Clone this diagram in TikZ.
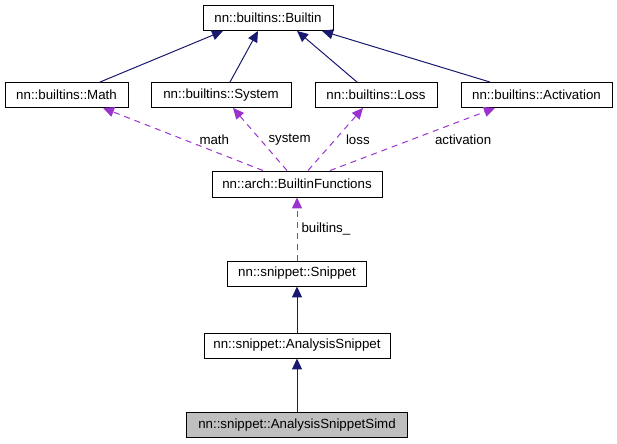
\documentclass[tikz,border=0pt]{standalone}
\usepackage{fontspec}
\setmainfont{Liberation Sans}
\usepackage{tikz}
\usetikzlibrary{arrows.meta,positioning}
\definecolor{doxblue}{RGB}{25,25,112}
\definecolor{doxpurple}{RGB}{154,50,205}
\definecolor{doxgray}{RGB}{191,191,191}

\begin{document}
\begin{tikzpicture}[x=1bp, y=-1bp,
    box/.style={draw=black, line width=0.9bp, rectangle, inner sep=0pt, minimum height=25bp,
        font=\fontsize{13.3bp}{16bp}\selectfont},
    base/.style={-{Triangle[length=11bp,width=10bp]}, doxblue, line width=1bp},
    uses/.style={-{Triangle[length=11bp,width=10bp]}, doxpurple, line width=1bp, dash pattern=on 6bp off 5bp},
    lbl/.style={inner sep=0pt, text=black, font=\fontsize{13.3bp}{16bp}\selectfont}]
    \useasboundingbox (0,0) rectangle (617,444);

    % base classes
    \node[box, minimum width=130bp] (builtin) at (268,18) {nn::builtins::Builtin};
    \node[box, minimum width=123bp] (math) at (66.5,95) {nn::builtins::Math};
    \node[box, minimum width=140bp] (system) at (221,95) {nn::builtins::System};
    \node[box, minimum width=122bp] (loss) at (376,95) {nn::builtins::Loss};
    \node[box, minimum width=151bp] (activation) at (536.5,95) {nn::builtins::Activation};

    % the chain below
    \node[box, minimum width=170bp, minimum height=26bp] (funcs) at (297,184) {nn::arch::BuiltinFunctions};
    \node[box, minimum width=139bp] (snippet) at (297,273.5) {nn::snippet::Snippet};
    \node[box, minimum width=186bp] (asnip) at (297,345.5) {nn::snippet::AnalysisSnippet};
    \node[box, minimum width=221bp, fill=doxgray] (simd) at (297,425) {nn::snippet::AnalysisSnippetSimd};

    \draw[base] ([xshift=33.5bp]math.north) -- ([xshift=-45bp]builtin.south);
    \draw[base] ([xshift=9bp]system.north) -- ([xshift=-10bp]builtin.south);
    \draw[base] ([xshift=-19bp]loss.north) -- ([xshift=29bp]builtin.south);
    \draw[base] ([xshift=-46.5bp]activation.north) -- ([xshift=54bp]builtin.south);

    \draw[uses] ([xshift=-34bp]funcs.north) -- ([xshift=36.5bp]math.south)
        node[lbl, pos=0.5, right=16bp] {math};
    \draw[uses] ([xshift=-10bp]funcs.north) -- ([xshift=12bp]system.south)
        node[lbl, pos=0.5, right=8bp] {system};
    \draw[uses] ([xshift=11bp]funcs.north) -- ([xshift=-13bp]loss.south)
        node[lbl, pos=0.5, right=10bp] {loss};
    \draw[uses] ([xshift=33bp]funcs.north) -- ([xshift=-41.5bp]activation.south)
        node[lbl, pos=0.5, right=22bp] {activation};
    \draw[uses] (snippet.north) -- (funcs.south)
        node[lbl, pos=0.5, right=4bp] {builtins\_};

    \draw[base] (asnip.north) -- (snippet.south);
    \draw[base] (simd.north) -- (asnip.south);
\end{tikzpicture}
\end{document}
